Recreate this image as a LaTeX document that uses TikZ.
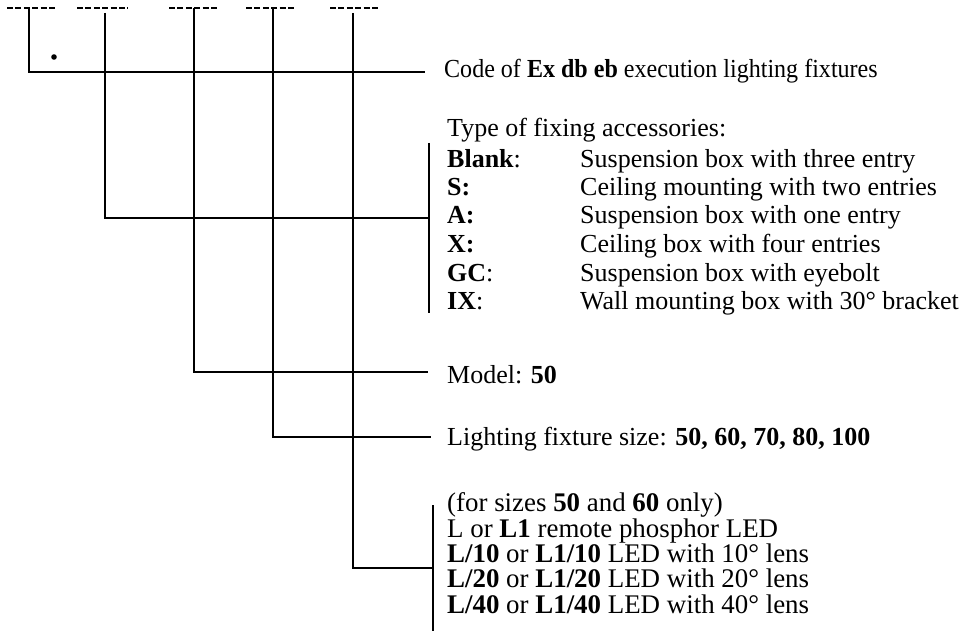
\documentclass[tikz,border=0pt]{standalone}
\usepackage{fontspec}
\setmainfont{Liberation Serif}
\newfontfamily\codefont[FakeStretch=0.925]{Liberation Serif}
\begin{document}
\begin{tikzpicture}[x=1pt,y=-1pt,
  lbl/.style={anchor=base west, inner sep=0pt, font=\fontsize{26}{28}\selectfont},
  lblcode/.style={lbl, font=\fontsize{26}{28}\codefont},
  lblbig/.style={lbl, font=\fontsize{26.9}{28}\selectfont},
  dashgrp/.style={line width=2.4pt, dash pattern=on 6pt off 2.4pt},
  wire/.style={line width=1.7pt, line join=miter},
  brk/.style={line width=2.1pt}]
\useasboundingbox (0,0) rectangle (969,631);
% dash groups
\draw[dashgrp] (7,8) -- (55,8);
\draw[dashgrp] (77,8) -- (128,8);
\draw[dashgrp] (169,8) -- (218,8);
\draw[dashgrp] (246,8) -- (295,8);
\draw[dashgrp] (330,8) -- (380,8);
\fill (54,57) circle (2.8pt);
% coordinates
\coordinate (t1) at (29,8);   \coordinate (c1) at (29,72);   \coordinate (e1) at (425,72);
\coordinate (t2) at (105,13); \coordinate (c2) at (105,218); \coordinate (e2) at (429,218);
\coordinate (b2a) at (429,143); \coordinate (b2b) at (429,313);
\coordinate (t3) at (194,8);  \coordinate (c3) at (194,372); \coordinate (e3) at (428,372);
\coordinate (t4) at (273,8);  \coordinate (c4) at (273,437); \coordinate (e4) at (431,437);
\coordinate (t5) at (353,13); \coordinate (c5) at (353,568); \coordinate (e5) at (433,568);
\coordinate (b5a) at (433,505); \coordinate (b5b) at (433,631);
% wires
\draw[wire] (t1) -- (c1) -- (e1);
\draw[wire] (t2) -- (c2) -- (e2);
\draw[brk] (b2a) -- (b2b);
\draw[wire] (t3) -- (c3) -- (e3);
\draw[wire] (t4) -- (c4) -- (e4);
\draw[wire] (t5) -- (c5) -- (e5);
\draw[brk] (b5a) -- (b5b);
% texts
\node[lblcode] (code) at (444,78) {Code of \textbf{Ex db eb} execution lighting fixtures};
\node[lbl] (type) at (447,137) {Type of fixing accessories:};
\node[lbl] (k1) at (447,168) {\textbf{Blank}:};
\node[lbl] (v1) at (580,168) {Suspension box with three entry};
\node[lbl] (k2) at (447,196) {\textbf{S:}};
\node[lbl] (v2) at (580,196) {Ceiling mounting with two entries};
\node[lbl] (k3) at (447,224) {\textbf{A:}};
\node[lbl] (v3) at (580,224) {Suspension box with one entry};
\node[lbl] (k4) at (447,252) {\textbf{X:}};
\node[lbl] (v4) at (580,252) {Ceiling box with four entries};
\node[lbl] (k5) at (447,281) {\textbf{GC}:};
\node[lbl] (v5) at (580,281) {Suspension box with eyebolt};
\node[lbl] (k6) at (447,309) {\textbf{IX}:};
\node[lbl] (v6) at (580,309) {Wall mounting box with 30° bracket};
\node[lbl] (model) at (447,383) {Model: \textbf{50}};
\node[lbl] (size) at (447,445) {Lighting fixture size: \textbf{50, 60, 70, 80, 100}};
\node[lblbig] (for) at (447,511) {(for sizes \textbf{50} and \textbf{60} only)};
\node[lblbig] (l1) at (447,537) {L or \textbf{L1} remote phosphor LED};
\node[lblbig] (l2) at (447,562) {\textbf{L/10} or \textbf{L1/10} LED with 10° lens};
\node[lblbig] (l3) at (447,587) {\textbf{L/20} or \textbf{L1/20} LED with 20° lens};
\node[lblbig] (l4) at (447,613) {\textbf{L/40} or \textbf{L1/40} LED with 40° lens};
\end{tikzpicture}
\end{document}
